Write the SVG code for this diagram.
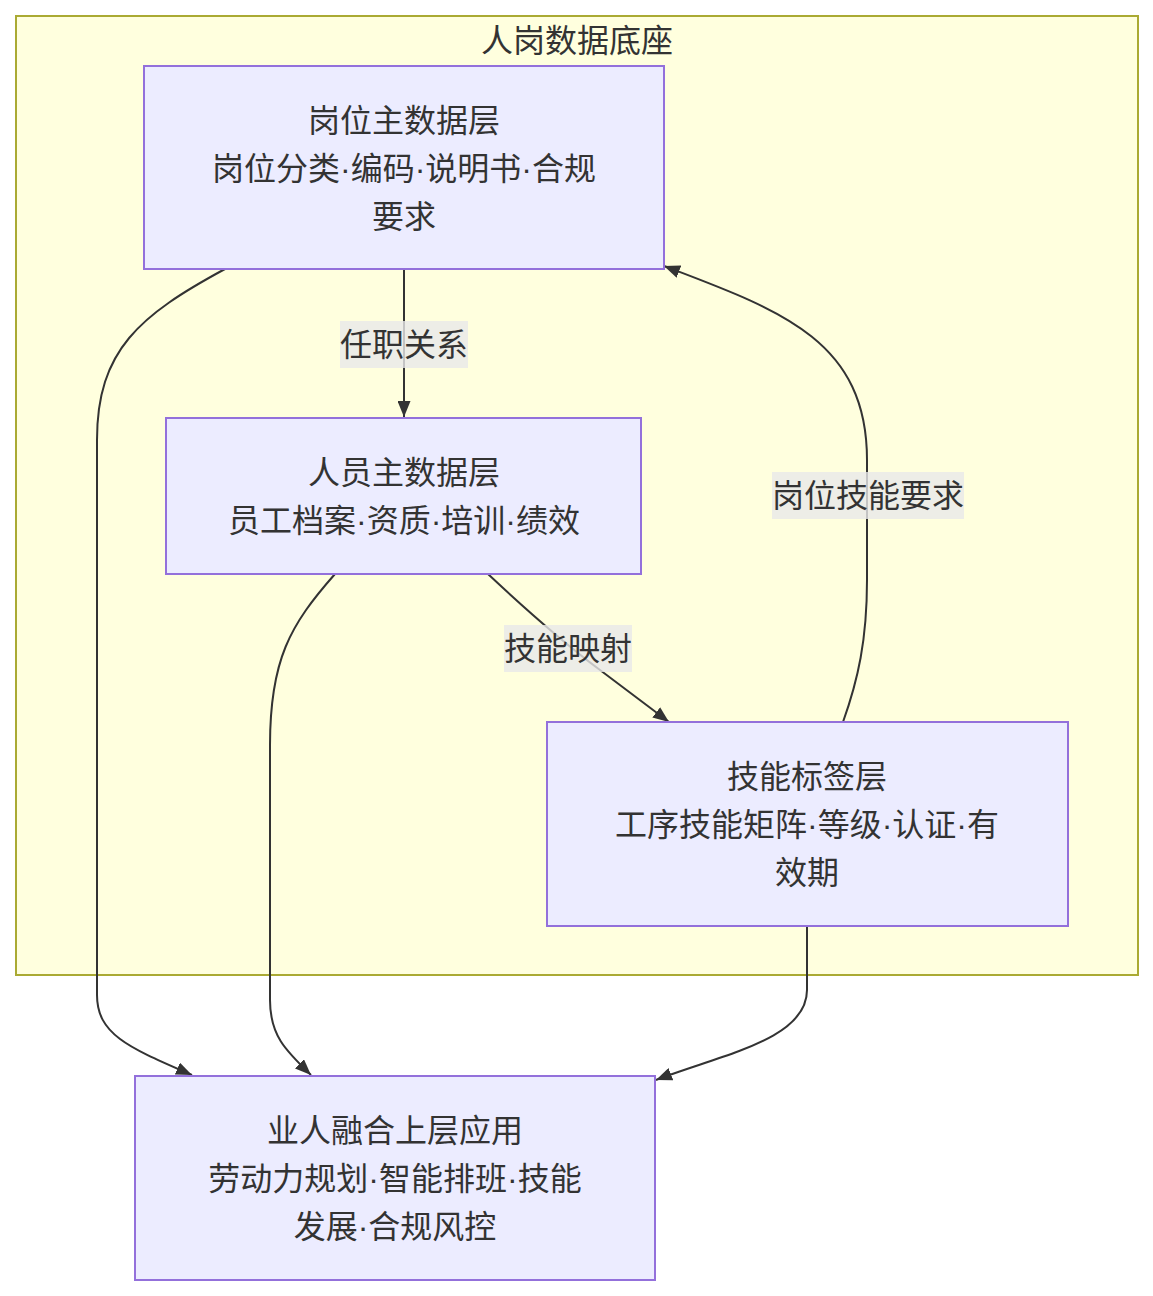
<svg xmlns="http://www.w3.org/2000/svg" width="1153" height="1296" viewBox="0 0 1153 1296">
<style>
text{font-family:"Liberation Sans","Noto Sans CJK SC",sans-serif;font-size:32px;fill:#333;text-anchor:middle;dominant-baseline:central}
.node rect{fill:#ececff;stroke:#9370db;stroke-width:2}
.cluster rect{fill:#ffffde;stroke:#aaaa33;stroke-width:2}
.edge{fill:none;stroke:#333;stroke-width:2}
.lbl{fill:rgba(232,232,232,0.8)}
</style>
<defs>
<marker id="arr" viewBox="0 0 16 13" refX="16" refY="6.5" markerWidth="16" markerHeight="13" markerUnits="userSpaceOnUse" orient="auto">
<path d="M0,0 L16,6.5 L0,13 z" fill="#333"/>
</marker>
</defs>
<rect width="1153" height="1296" fill="#ffffff"/>
<g id="cluster" class="cluster">
<rect x="16" y="16" width="1122" height="959"/>
<text x="577" y="41">人岗数据底座</text>
</g>
<g id="edges">
<path class="edge" d="M404,269 L404,417" marker-end="url(#arr)"/>
<path class="edge" d="M488,574 C520,604 560,640 600,670 L669,722" marker-end="url(#arr)"/>
<path class="edge" d="M843,722 C858,680 867,640 867,580 L867,460 C867,340 780,310 664,266" marker-end="url(#arr)"/>
<path class="edge" d="M225,269 C140,315 97,350 97,440 L97,995 C97,1035 130,1048 192,1075" marker-end="url(#arr)"/>
<path class="edge" d="M335,574 C290,625 270,660 270,745 L270,1000 C270,1035 285,1050 311,1075" marker-end="url(#arr)"/>
<path class="edge" d="M807,926 L807,990 C807,1040 720,1055 656,1080" marker-end="url(#arr)"/>
<rect class="lbl" x="340" y="321" width="128" height="47"/>
<text x="404" y="345">任职关系</text>
<rect class="lbl" x="504" y="625" width="128" height="47"/>
<text x="568" y="649">技能映射</text>
<rect class="lbl" x="772" y="472" width="192" height="47"/>
<text x="868" y="496">岗位技能要求</text>
</g>
<g id="nodeA" class="node">
<rect x="144" y="66" width="520" height="203"/>
<text x="404" y="121">岗位主数据层</text>
<text x="404" y="169">岗位分类·编码·说明书·合规</text>
<text x="404" y="217">要求</text>
</g>
<g id="nodeB" class="node">
<rect x="166" y="418" width="475" height="156"/>
<text x="404" y="473">人员主数据层</text>
<text x="404" y="521">员工档案·资质·培训·绩效</text>
</g>
<g id="nodeC" class="node">
<rect x="547" y="722" width="521" height="204"/>
<text x="807" y="777">技能标签层</text>
<text x="807" y="825">工序技能矩阵·等级·认证·有</text>
<text x="807" y="873">效期</text>
</g>
<g id="nodeD" class="node">
<rect x="135" y="1076" width="520" height="204"/>
<text x="395" y="1131">业人融合上层应用</text>
<text x="395" y="1179">劳动力规划·智能排班·技能</text>
<text x="395" y="1227">发展·合规风控</text>
</g>
</svg>
